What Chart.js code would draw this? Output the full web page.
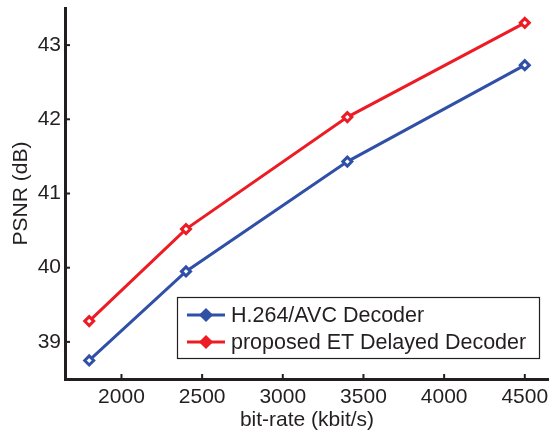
<!DOCTYPE html>
<html>
<head>
<meta charset="utf-8">
<script src="https://cdn.jsdelivr.net/npm/chart.js@4"></script>
<style>
  html, body { margin: 0; padding: 0; background: #fff; }
  #wrap { width: 549px; height: 435px; }
</style>
</head>
<body>
<div id="wrap"><canvas id="psnrChart" width="549" height="435"></canvas></div>
<script>
// bit-rate (kbit/s) on x, PSNR (dB) on y
const bitRates = [1800, 2400, 3400, 4500];
const h264Psnr = [38.75, 39.95, 41.43, 42.73];
const etPsnr = [39.28, 40.52, 42.03, 43.30];
const xTicks = [2000, 2500, 3000, 3500, 4000, 4500];
const yTicks = [39, 40, 41, 42, 43];

const FONT = 'Liberation Sans, Arial, Helvetica, sans-serif';
const AXIS_COLOR = '#231f20';

// MATLAB style inward ticks
const inwardTicks = {
  id: 'inwardTicks',
  afterDraw(chart) {
    const { ctx, chartArea, scales } = chart;
    ctx.save();
    ctx.strokeStyle = AXIS_COLOR;
    ctx.lineWidth = 2;
    xTicks.forEach(v => {
      const x = scales.x.getPixelForValue(v);
      ctx.beginPath();
      ctx.moveTo(x, chartArea.bottom);
      ctx.lineTo(x, chartArea.bottom - 5);
      ctx.stroke();
    });
    yTicks.forEach(v => {
      const y = scales.y.getPixelForValue(v);
      ctx.beginPath();
      ctx.moveTo(chartArea.left, y);
      ctx.lineTo(chartArea.left + 5, y);
      ctx.stroke();
    });
    ctx.restore();
  }
};

// boxed legend in the lower right of the plot
const boxLegend = {
  id: 'boxLegend',
  afterDraw(chart) {
    const ctx = chart.ctx;
    const bx = 177, by = 297, bw = 362, bh = 61;
    ctx.save();
    ctx.fillStyle = '#fff';
    ctx.fillRect(bx, by, bw, bh);
    ctx.strokeStyle = AXIS_COLOR;
    ctx.lineWidth = 1.2;
    ctx.strokeRect(bx + 0.5, by + 0.5, bw, bh);
    chart.data.datasets.forEach((ds, i) => {
      const y = 315 + i * 27;
      ctx.strokeStyle = ds.borderColor;
      ctx.lineWidth = 3;
      ctx.beginPath();
      ctx.moveTo(187, y);
      ctx.lineTo(225, y);
      ctx.stroke();
      ctx.fillStyle = ds.borderColor;
      Chart.helpers.drawPoint(ctx, { pointStyle: 'rectRot', radius: 5, borderWidth: 1, rotation: 0 }, 206, y);
      ctx.fill();
      ctx.fillStyle = '#231f20';
      ctx.font = '21.5px ' + FONT;
      ctx.textBaseline = 'middle';
      ctx.textAlign = 'left';
      ctx.fillText(ds.label, 231, y + 1);
    });
    ctx.restore();
  }
};

const makeSeries = (label, values, color) => ({
  label: label,
  data: bitRates.map((x, i) => ({ x: x, y: values[i] })),
  borderColor: color,
  backgroundColor: '#fff',
  borderWidth: 3,
  pointStyle: 'rectRot',
  pointRadius: 4.5,
  pointBorderWidth: 3,
  pointBorderColor: color,
  pointBackgroundColor: '#fff',
  tension: 0
});

new Chart(document.getElementById('psnrChart'), {
  type: 'line',
  data: {
    datasets: [
      makeSeries('H.264/AVC Decoder', h264Psnr, '#3050a8'),
      makeSeries('proposed ET Delayed Decoder', etPsnr, '#ed1c24')
    ]
  },
  options: {
    responsive: false,
    animation: false,
    layout: { autoPadding: false, padding: { top: 8, right: 0, left: 0, bottom: 0 } },
    plugins: {
      legend: { display: false },
      tooltip: { enabled: false }
    },
    scales: {
      x: {
        type: 'linear',
        min: 1650,
        max: 4650,
        afterBuildTicks: scale => { scale.ticks = xTicks.map(v => ({ value: v })); },
        afterFit: scale => {
          scale.height = 56;
          scale.paddingLeft = 0;
          scale.paddingRight = 0;
        },
        grid: { display: false, drawTicks: false },
        border: { display: true, width: 3, color: AXIS_COLOR },
        ticks: {
          color: '#231f20',
          font: { family: FONT, size: 21 },
          padding: 6,
          maxRotation: 0,
          callback: v => String(v)
        },
        title: {
          display: true,
          text: 'bit-rate (kbit/s)',
          color: '#231f20',
          font: { family: FONT, size: 21 },
          padding: { top: 0, bottom: 2 }
        }
      },
      y: {
        min: 38.5,
        max: 43.5,
        afterBuildTicks: scale => { scale.ticks = yTicks.map(v => ({ value: v })); },
        afterFit: scale => {
          scale.width = 65;
          scale.paddingTop = 0;
          scale.paddingBottom = 0;
        },
        grid: { display: false, drawTicks: false },
        border: { display: true, width: 3, color: AXIS_COLOR },
        ticks: { color: '#231f20', font: { family: FONT, size: 21 }, padding: 4 },
        title: {
          display: true,
          text: 'PSNR (dB)',
          color: '#231f20',
          font: { family: FONT, size: 21 },
          padding: { top: 9, bottom: 0 }
        }
      }
    }
  },
  plugins: [inwardTicks, boxLegend]
});
</script>
</body>
</html>
